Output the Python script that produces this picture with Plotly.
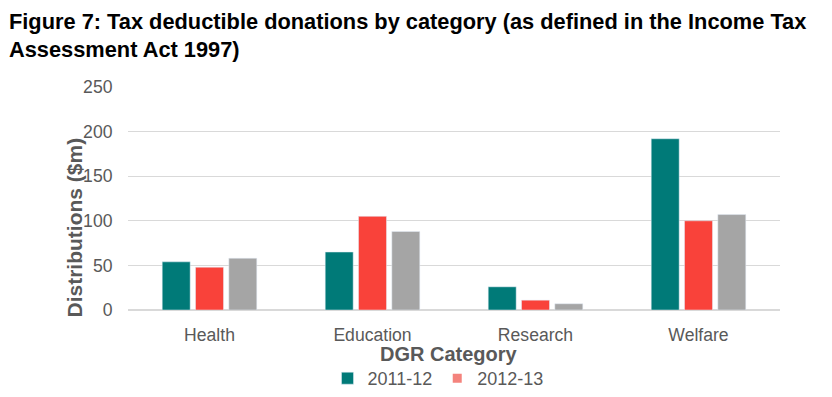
import plotly.graph_objects as go

categories = ["Health", "Education", "Research", "Welfare"]
s2011 = [54, 65, 26, 192]
s2012 = [48, 105, 11, 100]
s2013 = [58, 88, 7, 107]
y_ticks = [0, 50, 100, 150, 200, 250]

TEAL = "#007A78"
RED = "#F9423A"
GREY = "#A5A5A5"
PINK = "#F4837D"
TXT = "#595959"
FONT = "Liberation Sans, Arial, sans-serif"

# the page body has an 8px default margin; lay out in window pixels minus that
OFF = 8
W, H = 832 - OFF, 397 - OFF
L, R, T, B = 128 - OFF, 52, 87 - OFF, 87
PW, PH = W - L - R, H - T - B


def px_x(x):
    return (x - OFF - L) / PW


def px_y(y):
    return (H - B - (y - OFF)) / PH


fig = go.Figure()
fig.add_trace(go.Bar(x=categories, y=s2011, name="2011-12", marker_color=TEAL))
fig.add_trace(go.Bar(x=categories, y=s2012, name="2012-13", marker_color=RED, showlegend=False))
fig.add_trace(go.Bar(x=categories, y=s2013, name="2013-14", marker_color=GREY, showlegend=False))
fig.add_trace(go.Scatter(x=[None], y=[None], mode="markers", name="2012-13",
                         marker=dict(symbol="square", color=PINK, size=9)))

fig.update_layout(
    width=W, height=H,
    margin=dict(l=L, r=R, t=T, b=B, autoexpand=False),
    paper_bgcolor="white", plot_bgcolor="white",
    barmode="group", bargap=0.387, bargroupgap=0.16,
    font=dict(family=FONT, color=TXT, size=17.6),
    showlegend=True,
    legend=dict(orientation="h", x=px_x(438), xanchor="center",
                y=px_y(360), yanchor="top",
                font=dict(size=18, color=TXT), itemwidth=30, tracegroupgap=0,
                traceorder="normal", bgcolor="rgba(0,0,0,0)"),
    xaxis=dict(
        tickfont=dict(size=17.6, color=TXT),
        showline=False, ticks="outside", ticklen=9, tickcolor="rgba(0,0,0,0)",
        automargin=False,
    ),
    yaxis=dict(
        range=[0, 250], tickvals=y_ticks,
        tickfont=dict(size=17.6, color=TXT),
        gridcolor="#D9D9D9", zeroline=True, zerolinecolor="#D9D9D9",
        ticks="outside", ticklen=11, tickcolor="rgba(0,0,0,0)",
        automargin=False,
    ),
    annotations=[
        dict(text="<b>Figure 7: Tax deductible donations by category (as defined in the Income Tax<br>Assessment Act 1997)</b>",
             xref="paper", yref="paper", x=px_x(7), y=px_y(7),
             xanchor="left", yanchor="top", align="left", showarrow=False,
             font=dict(family=FONT, size=21.8, color="#000000")),
        dict(text="<b>Distributions ($m)</b>", textangle=-90,
             xref="paper", yref="paper", x=px_x(74), y=px_y(227.5),
             xanchor="center", yanchor="middle", showarrow=False,
             font=dict(family=FONT, size=21, color=TXT)),
        dict(text="<b>DGR Category</b>",
             xref="paper", yref="paper", x=px_x(449), y=px_y(354),
             xanchor="center", yanchor="middle", showarrow=False,
             font=dict(family=FONT, size=20, color=TXT)),
    ],
)

fig.write_html("out.html")
